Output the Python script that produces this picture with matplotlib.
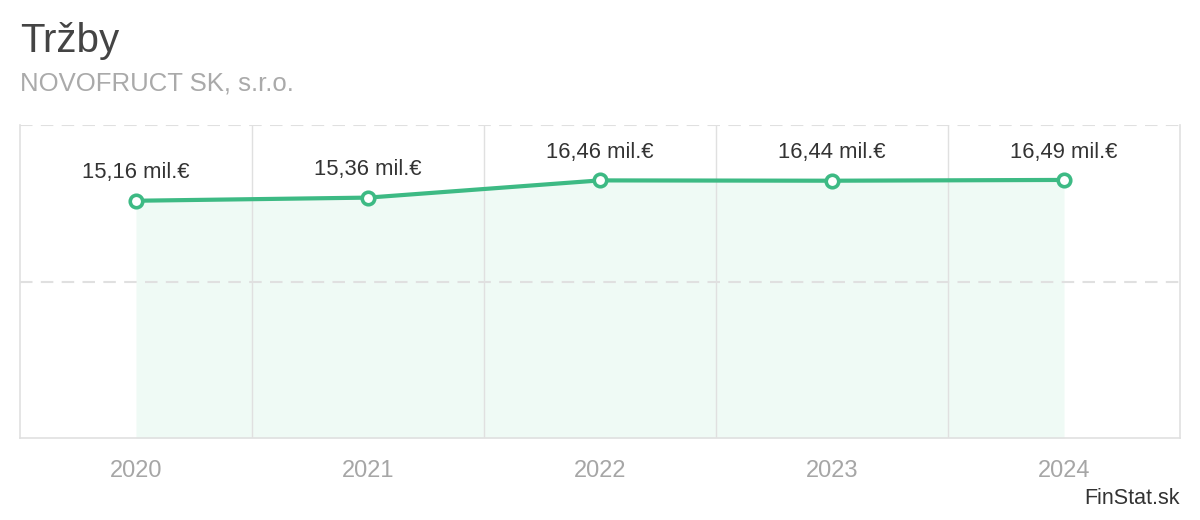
import numpy as np
import matplotlib.pyplot as plt

plt.rcParams['font.family'] = ['Liberation Sans', 'DejaVu Sans']

# data
years = ['2020', '2021', '2022', '2023', '2024']
revenue = [15.16, 15.36, 16.46, 16.44, 16.49]   # mil. EUR
labels = ['15,16 mil.€', '15,36 mil.€', '16,46 mil.€', '16,44 mil.€', '16,49 mil.€']
yticks = [0, 10, 20]

green = '#3dba84'
grid_col = '#e0e0e0'

fig = plt.figure(figsize=(12, 5.2), dpi=100)
ax = fig.add_axes([20 / 1200, 82 / 520, 1160 / 1200, 313 / 520])

x = np.arange(len(years))
ax.fill_between(x, 0, revenue, color='#effaf5', zorder=1, linewidth=0)
ax.plot(x, revenue, color=green, linewidth=3, zorder=4,
        marker='o', markersize=9, markerfacecolor='white',
        markeredgecolor=green, markeredgewidth=2.6)

for xi, v, lab in zip(x, revenue, labels):
    ax.annotate(lab, (xi, v), xytext=(0, 12.5), textcoords='offset points',
                ha='center', va='bottom', fontsize=15.8, color='#333333')

ax.set_xlim(-0.5, len(years) - 0.5)
ax.set_ylim(yticks[0], yticks[-1])

# dashed horizontal grid
for t in yticks[1:]:
    ax.axhline(t, color=grid_col, linewidth=1.5, linestyle=(0, (6, 4)), zorder=2)
# vertical category separators
for b in np.arange(0.5, len(years) - 0.5):
    ax.axvline(b, color=grid_col, linewidth=1, zorder=2)

for side in ['left', 'right', 'bottom']:
    ax.spines[side].set_color(grid_col)
    ax.spines[side].set_linewidth(1.2)
ax.spines['top'].set_visible(False)

ax.set_yticks([])
ax.set_xticks(x)
ax.set_xticklabels(years, fontsize=17, color='#a6a6a6')
ax.tick_params(axis='x', length=0, pad=16)

fig.text(20 / 1200, 1 - 52 / 520, 'Tržby', fontsize=29, color='#444444',
         ha='left', va='baseline')
fig.text(20 / 1200, 1 - 90 / 520, 'NOVOFRUCT SK, s.r.o.', fontsize=18.5,
         color='#aaaaaa', ha='left', va='baseline')
fig.text(1180 / 1200, 1 - 504 / 520, 'FinStat.sk', fontsize=15.5,
         color='#333333', ha='right', va='baseline')

fig.savefig('out.png', dpi=100, facecolor='white')
